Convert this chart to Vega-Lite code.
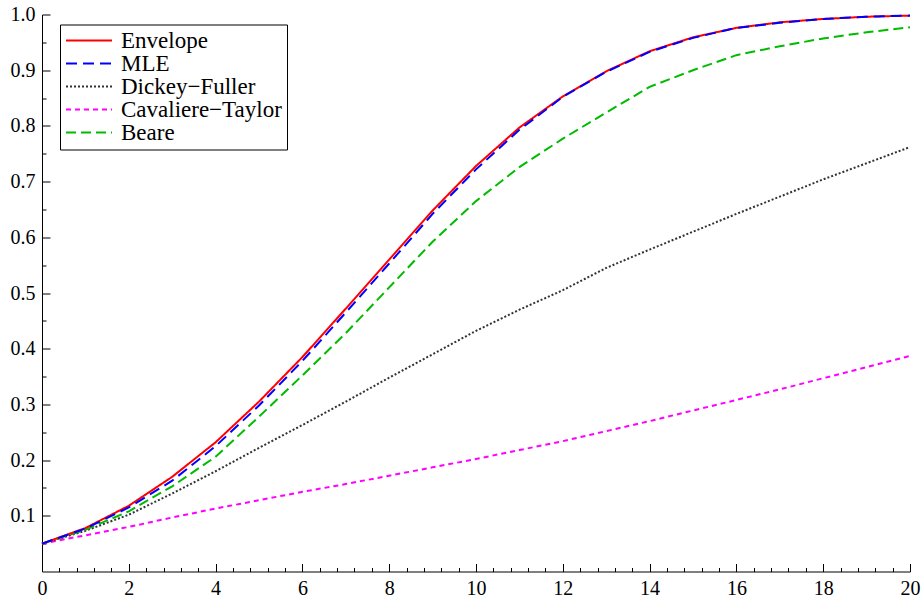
{
  "$schema": "https://vega.github.io/schema/vega-lite/v6.json",
  "width": 868,
  "height": 557,
  "autosize": {"type": "none"},
  "padding": {"left": 42, "top": 14.5, "right": 12, "bottom": 29.5},
  "background": "white",
  "config": {
    "font": "Liberation Serif, Times New Roman, Times, serif",
    "view": {"stroke": null},
    "axis": {"domainColor": "black", "domainWidth": 1, "tickColor": "black", "tickWidth": 1, "labelColor": "black", "grid": false, "title": null}
  },
  "data": {"values": [
    {"x":0,"v":0.05,"s":"Cavaliere−Taylor"},{"x":1,"v":0.065,"s":"Cavaliere−Taylor"},{"x":2,"v":0.08,"s":"Cavaliere−Taylor"},{"x":3,"v":0.097,"s":"Cavaliere−Taylor"},{"x":4,"v":0.113,"s":"Cavaliere−Taylor"},{"x":5,"v":0.128,"s":"Cavaliere−Taylor"},{"x":6,"v":0.143,"s":"Cavaliere−Taylor"},{"x":7,"v":0.157,"s":"Cavaliere−Taylor"},{"x":8,"v":0.172,"s":"Cavaliere−Taylor"},{"x":9,"v":0.187,"s":"Cavaliere−Taylor"},{"x":10,"v":0.202,"s":"Cavaliere−Taylor"},{"x":11,"v":0.218,"s":"Cavaliere−Taylor"},{"x":12,"v":0.234,"s":"Cavaliere−Taylor"},{"x":13,"v":0.252,"s":"Cavaliere−Taylor"},{"x":14,"v":0.27,"s":"Cavaliere−Taylor"},{"x":15,"v":0.289,"s":"Cavaliere−Taylor"},{"x":16,"v":0.308,"s":"Cavaliere−Taylor"},{"x":17,"v":0.327,"s":"Cavaliere−Taylor"},{"x":18,"v":0.347,"s":"Cavaliere−Taylor"},{"x":19,"v":0.367,"s":"Cavaliere−Taylor"},{"x":20,"v":0.387,"s":"Cavaliere−Taylor"},
    {"x":0,"v":0.05,"s":"Dickey−Fuller"},{"x":1,"v":0.073,"s":"Dickey−Fuller"},{"x":2,"v":0.102,"s":"Dickey−Fuller"},{"x":3,"v":0.14,"s":"Dickey−Fuller"},{"x":4,"v":0.18,"s":"Dickey−Fuller"},{"x":5,"v":0.222,"s":"Dickey−Fuller"},{"x":6,"v":0.263,"s":"Dickey−Fuller"},{"x":7,"v":0.305,"s":"Dickey−Fuller"},{"x":8,"v":0.348,"s":"Dickey−Fuller"},{"x":9,"v":0.39,"s":"Dickey−Fuller"},{"x":10,"v":0.432,"s":"Dickey−Fuller"},{"x":11,"v":0.47,"s":"Dickey−Fuller"},{"x":12,"v":0.505,"s":"Dickey−Fuller"},{"x":13,"v":0.545,"s":"Dickey−Fuller"},{"x":14,"v":0.578,"s":"Dickey−Fuller"},{"x":15,"v":0.61,"s":"Dickey−Fuller"},{"x":16,"v":0.642,"s":"Dickey−Fuller"},{"x":17,"v":0.673,"s":"Dickey−Fuller"},{"x":18,"v":0.704,"s":"Dickey−Fuller"},{"x":19,"v":0.733,"s":"Dickey−Fuller"},{"x":20,"v":0.762,"s":"Dickey−Fuller"},
    {"x":0,"v":0.05,"s":"Beare"},{"x":1,"v":0.075,"s":"Beare"},{"x":2,"v":0.108,"s":"Beare"},{"x":3,"v":0.153,"s":"Beare"},{"x":4,"v":0.206,"s":"Beare"},{"x":5,"v":0.278,"s":"Beare"},{"x":6,"v":0.352,"s":"Beare"},{"x":7,"v":0.428,"s":"Beare"},{"x":8,"v":0.51,"s":"Beare"},{"x":9,"v":0.592,"s":"Beare"},{"x":10,"v":0.665,"s":"Beare"},{"x":11,"v":0.726,"s":"Beare"},{"x":12,"v":0.777,"s":"Beare"},{"x":13,"v":0.824,"s":"Beare"},{"x":14,"v":0.87,"s":"Beare"},{"x":15,"v":0.9,"s":"Beare"},{"x":16,"v":0.927,"s":"Beare"},{"x":17,"v":0.943,"s":"Beare"},{"x":18,"v":0.957,"s":"Beare"},{"x":19,"v":0.968,"s":"Beare"},{"x":20,"v":0.977,"s":"Beare"},
    {"x":0,"v":0.05,"s":"Envelope"},{"x":1,"v":0.078,"s":"Envelope"},{"x":2,"v":0.118,"s":"Envelope"},{"x":3,"v":0.17,"s":"Envelope"},{"x":4,"v":0.232,"s":"Envelope"},{"x":5,"v":0.305,"s":"Envelope"},{"x":6,"v":0.385,"s":"Envelope"},{"x":7,"v":0.472,"s":"Envelope"},{"x":8,"v":0.56,"s":"Envelope"},{"x":9,"v":0.648,"s":"Envelope"},{"x":10,"v":0.728,"s":"Envelope"},{"x":11,"v":0.797,"s":"Envelope"},{"x":12,"v":0.853,"s":"Envelope"},{"x":13,"v":0.898,"s":"Envelope"},{"x":14,"v":0.934,"s":"Envelope"},{"x":15,"v":0.959,"s":"Envelope"},{"x":16,"v":0.976,"s":"Envelope"},{"x":17,"v":0.986,"s":"Envelope"},{"x":18,"v":0.992,"s":"Envelope"},{"x":19,"v":0.996,"s":"Envelope"},{"x":20,"v":0.998,"s":"Envelope"},
    {"x":0,"v":0.05,"s":"MLE"},{"x":1,"v":0.077,"s":"MLE"},{"x":2,"v":0.115,"s":"MLE"},{"x":3,"v":0.163,"s":"MLE"},{"x":4,"v":0.225,"s":"MLE"},{"x":5,"v":0.298,"s":"MLE"},{"x":6,"v":0.378,"s":"MLE"},{"x":7,"v":0.465,"s":"MLE"},{"x":8,"v":0.553,"s":"MLE"},{"x":9,"v":0.642,"s":"MLE"},{"x":10,"v":0.722,"s":"MLE"},{"x":11,"v":0.793,"s":"MLE"},{"x":12,"v":0.852,"s":"MLE"},{"x":13,"v":0.897,"s":"MLE"},{"x":14,"v":0.933,"s":"MLE"},{"x":15,"v":0.958,"s":"MLE"},{"x":16,"v":0.976,"s":"MLE"},{"x":17,"v":0.985,"s":"MLE"},{"x":18,"v":0.992,"s":"MLE"},{"x":19,"v":0.996,"s":"MLE"},{"x":20,"v":0.998,"s":"MLE"}
  ]},
  "layer": [
    {
      "mark": {"type": "line", "strokeWidth": 2},
      "encoding": {
        "x": {"field": "x", "type": "quantitative", "scale": {"domain": [0, 20], "nice": false},
              "axis": {"orient": "bottom", "values": [0,2,4,6,8,10,12,14,16,18,20], "ticks": false, "labelPadding": 7, "labelFlush": false, "labelOverlap": false, "labelFont": "Liberation Serif, Times New Roman, Times, serif", "labelFontSize": 20, "labelColor": "black"}},
        "y": {"field": "v", "type": "quantitative", "scale": {"domain": [0, 1], "nice": false, "zero": false},
              "axis": {"orient": "left", "values": [0.1,0.2,0.3,0.4,0.5,0.6,0.7,0.8,0.9,1.0], "format": ".1f", "ticks": false, "labelPadding": 7, "labelFlush": false, "labelOverlap": false, "labelFont": "Liberation Serif, Times New Roman, Times, serif", "labelFontSize": 20, "labelColor": "black"}},
        "color": {"field": "s", "type": "nominal",
                  "scale": {"domain": ["Envelope", "MLE", "Dickey−Fuller", "Cavaliere−Taylor", "Beare"], "range": ["#ff0000", "#0000ff", "#333333", "#ff00ff", "#00bb00"]},
                  "legend": {"orient": "none", "legendX": 18, "legendY": 10, "direction": "vertical", "title": null, "fillColor": "white", "strokeColor": "black", "padding": 5, "symbolType": "stroke", "symbolSize": 2116, "symbolStrokeWidth": 2, "clipHeight": 22, "labelFont": "Liberation Serif, Times New Roman, Times, serif", "labelFontSize": 23, "labelColor": "black", "labelOffset": 8, "rowPadding": 0, "labelLimit": 400}},
        "strokeDash": {"field": "s", "type": "nominal",
                  "scale": {"domain": ["Envelope", "MLE", "Dickey−Fuller", "Cavaliere−Taylor", "Beare"], "range": [[1,0],[11,6],[2,2],[5,4],[10,5]]},
                  "legend": {"orient": "none", "legendX": 18, "legendY": 10, "direction": "vertical", "title": null, "fillColor": "white", "strokeColor": "black", "padding": 5, "symbolType": "stroke", "symbolSize": 2116, "symbolStrokeWidth": 2, "clipHeight": 22, "labelFont": "Liberation Serif, Times New Roman, Times, serif", "labelFontSize": 23, "labelColor": "black", "labelOffset": 8, "rowPadding": 0, "labelLimit": 400}}
      }
    },
    {
      "mark": {"type": "line", "opacity": 0},
      "encoding": {
        "x": {"field": "x", "type": "quantitative", "scale": {"domain": [0, 20], "nice": false},
              "axis": {"orient": "bottom", "values": [0,2,4,6,8,10,12,14,16,18,20], "tickSize": -8, "labels": false, "domain": false}},
        "y": {"field": "v", "type": "quantitative", "scale": {"domain": [0, 1], "nice": false, "zero": false},
              "axis": {"orient": "left", "values": [0.1,0.2,0.3,0.4,0.5,0.6,0.7,0.8,0.9,1.0], "tickSize": -8, "labels": false, "domain": false}},
        "detail": {"field": "s", "type": "nominal"}
      }
    },
    {
      "mark": {"type": "line", "opacity": 0},
      "encoding": {
        "x": {"field": "x", "type": "quantitative", "scale": {"domain": [0, 20], "nice": false},
              "axis": {"orient": "bottom", "values": [0.4,0.8,1.2,1.6,2.4,2.8,3.2,3.6,4.4,4.8,5.2,5.6,6.4,6.8,7.2,7.6,8.4,8.8,9.2,9.6,10.4,10.8,11.2,11.6,12.4,12.8,13.2,13.6,14.4,14.8,15.2,15.6,16.4,16.8,17.2,17.6,18.4,18.8,19.2,19.6], "tickSize": -4, "labels": false, "domain": false}},
        "y": {"field": "v", "type": "quantitative", "scale": {"domain": [0, 1], "nice": false, "zero": false},
              "axis": {"orient": "left", "values": [0.05,0.15,0.25,0.35,0.45,0.55,0.65,0.75,0.85,0.95], "tickSize": -4, "labels": false, "domain": false}},
        "detail": {"field": "s", "type": "nominal"}
      }
    }
  ],
  "resolve": {"axis": {"x": "independent", "y": "independent"}}
}
